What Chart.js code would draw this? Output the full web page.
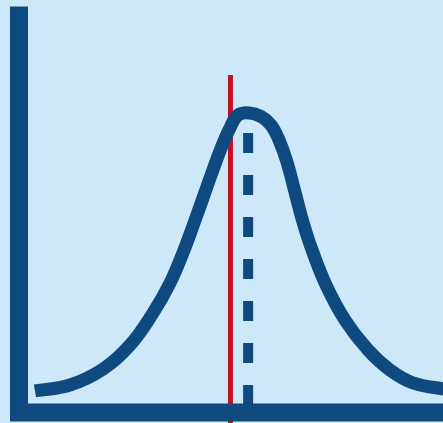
<!DOCTYPE html>
<html>
<head>
<meta charset="utf-8">
<script src="https://cdn.jsdelivr.net/npm/chart.js@4/dist/chart.umd.min.js"></script>
<style>
  html, body { margin: 0; padding: 0; background: #cde8f8; overflow: hidden; }
  #wrap { width: 443px; height: 423px; }
</style>
</head>
<body>
<div id="wrap"><canvas id="bell" width="443" height="423"></canvas></div>
<script>
// Bell curve: x in standard units around the mean, y as relative height (axis = 0, peak = 1)
const curveX = [-3.72, -3.105, -2.526, -2.053, -1.649, -1.351, -1.123, -0.947, -0.772, -0.596, -0.439, -0.298, -0.158, 0.035,
                0.246, 0.421, 0.561, 0.702, 0.842, 0.982, 1.14, 1.386, 1.719, 2.123, 2.509, 2.912, 3.5];
const curveY = [0.072, 0.092, 0.145, 0.225, 0.332, 0.432, 0.533, 0.623, 0.716, 0.81, 0.89, 0.95, 0.993, 1.0,
                0.988, 0.96, 0.91, 0.836, 0.736, 0.636, 0.543, 0.426, 0.309, 0.209, 0.142, 0.099, 0.077];

// Axes drawn as an L: top of y axis, origin, right end of x axis
const axisX = [-4.0, -4.0, 3.6];
const axisY = [1.355, 0, 0];

// Red marker line and dashed mean line
const markerX = [-0.29, -0.29];
const markerY = [1.127, -0.06];
const meanX = [0.02, 0.02];
const meanY = [0.933, 0.025];

const BLUE = '#0e4a7f';
const RED = '#c3121f';

const toPoints = (xs, ys) => xs.map((x, i) => ({ x, y: ys[i] }));

new Chart(document.getElementById('bell'), {
  type: 'line',
  data: {
    datasets: [
      {
        label: 'axes',
        data: toPoints(axisX, axisY),
        borderColor: BLUE,
        borderWidth: 18,
        borderCapStyle: 'butt',
        borderJoinStyle: 'miter',
        pointRadius: 0,
        tension: 0,
      },
      {
        label: 'curve',
        data: toPoints(curveX, curveY),
        borderColor: BLUE,
        borderWidth: 13,
        borderCapStyle: 'butt',
        borderJoinStyle: 'round',
        pointRadius: 0,
        tension: 0.4,
      },
      {
        label: 'mean',
        data: toPoints(meanX, meanY),
        borderColor: BLUE,
        borderWidth: 10,
        borderDash: [20, 22],
        borderCapStyle: 'butt',
        pointRadius: 0,
      },
      {
        label: 'marker',
        data: toPoints(markerX, markerY),
        borderColor: RED,
        borderWidth: 5,
        borderCapStyle: 'butt',
        pointRadius: 0,
      },
    ]
  },
  options: {
    responsive: false,
    animation: false,
    layout: { padding: 0 },
    plugins: { legend: { display: false }, tooltip: { enabled: false } },
    scales: {
      x: { type: 'linear', min: -4.333, max: 3.439, display: false },
      y: { type: 'linear', min: -0.035, max: 1.377, display: false }
    }
  }
});
</script>
</body>
</html>
